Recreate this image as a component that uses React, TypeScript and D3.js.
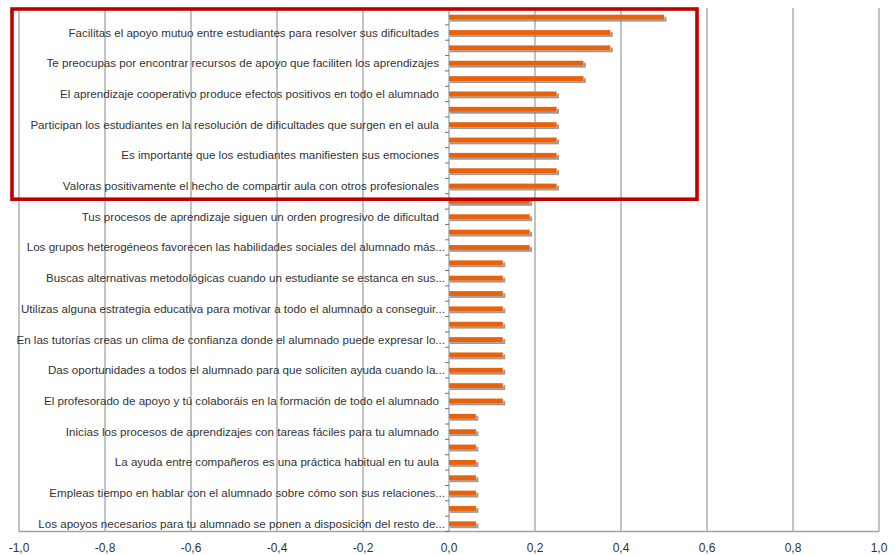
import React from "react";
import * as d3 from "d3";

// Mean scores per item, top to bottom (34 items; every second one carries a label)
const values: number[] = [
  0.5, 0.375, 0.375, 0.3125, 0.3125,
  0.25, 0.25, 0.25, 0.25, 0.25, 0.25, 0.25,
  0.1875, 0.1875, 0.1875, 0.1875,
  0.125, 0.125, 0.125, 0.125, 0.125, 0.125, 0.125, 0.125, 0.125, 0.125,
  0.0625, 0.0625, 0.0625, 0.0625, 0.0625, 0.0625, 0.0625, 0.0625,
];

// Labels shown on the category axis (on items 2, 4, 6, ...)
const labels: string[] = [
  "Facilitas el apoyo mutuo entre estudiantes para resolver sus dificultades",
  "Te preocupas por encontrar recursos de apoyo que faciliten los aprendizajes",
  "El aprendizaje cooperativo produce efectos positivos en todo el alumnado",
  "Participan los estudiantes en la resolución de dificultades que surgen en el aula",
  "Es importante que los estudiantes manifiesten sus emociones",
  "Valoras positivamente el hecho de compartir aula con otros profesionales",
  "Tus procesos de aprendizaje siguen un orden progresivo de dificultad",
  "Los grupos heterogéneos favorecen las habilidades sociales del alumnado más...",
  "Buscas alternativas metodológicas cuando un estudiante se estanca en sus...",
  "Utilizas alguna estrategia educativa para motivar a todo el alumnado a conseguir...",
  "En las tutorías creas un clima de confianza donde el alumnado puede expresar lo...",
  "Das oportunidades a todos el alumnado para que soliciten ayuda cuando la...",
  "El profesorado de apoyo y tú colaboráis en la formación de todo el alumnado",
  "Inicias los procesos de aprendizajes con tareas fáciles para tu alumnado",
  "La ayuda entre compañeros es una práctica habitual en tu aula",
  "Empleas tiempo en hablar con el alumnado sobre cómo son sus relaciones...",
  "Los apoyos necesarios para tu alumnado se ponen a disposición del resto de...",
];

const xTicks: number[] = [-1, -0.8, -0.6, -0.4, -0.2, 0, 0.2, 0.4, 0.6, 0.8, 1];

// Number of items highlighted by the red frame (from the top)
const highlightedCount = 12;

const W = 895;
const H = 555;
const plot = { left: 19, right: 879, top: 9.5, bottom: 531.5 };

export default function App() {
  const x = d3.scaleLinear().domain([-1, 1]).range([plot.left, plot.right]);
  const y = d3
    .scaleBand<number>()
    .domain(values.map((_, i) => i))
    .range([plot.top, plot.bottom])
    .paddingInner(0)
    .paddingOuter(0);
  const step = y.step();
  const barH = 4.8;
  const fmt = (v: number) => d3.format(".1f")(v).replace(".", ",").replace("−", "-");
  const textColor = "#333333";
  const gridColor = "#a3a3a3";
  const frameBottom = (y(highlightedCount) ?? 0) + step / 2 - 2.2;

  return (
    <svg
      width={W}
      height={H}
      style={{ position: "absolute", left: 0, top: 0, background: "#fff" }}
      fontFamily="'Liberation Sans', Arial, sans-serif"
    >
      <defs>
        <filter id="barShadow" x="-5%" y="-100%" width="110%" height="300%">
          <feGaussianBlur stdDeviation="0.7" />
        </filter>
      </defs>

      {/* vertical gridlines */}
      {xTicks.map((t) => (
        <line
          key={`g${t}`}
          x1={x(t)}
          x2={x(t)}
          y1={plot.top - 1.5}
          y2={plot.bottom}
          stroke={gridColor}
          strokeWidth={1.3}
        />
      ))}

      {/* horizontal axis line */}
      <line x1={plot.left} x2={plot.right} y1={plot.bottom} y2={plot.bottom} stroke={gridColor} strokeWidth={1.3} />

      {/* category axis ticks at the zero line */}
      {d3.range(values.length + 1).map((i) => (
        <line
          key={`t${i}`}
          x1={x(0) - 4}
          x2={x(0)}
          y1={plot.top + i * step}
          y2={plot.top + i * step}
          stroke="#707070"
          strokeWidth={1}
        />
      ))}

      {/* bars with soft shadow */}
      {values.map((v, i) => {
        const cy = (y(i) ?? 0) + step / 2;
        return (
          <g key={`b${i}`}>
            <rect
              x={x(0) + 1}
              y={cy - barH / 2 + 2}
              width={x(v) - x(0) + 1.5}
              height={barH}
              fill="#7a7a7a"
              opacity={0.75}
              filter="url(#barShadow)"
            />
            <rect x={x(0)} y={cy - barH / 2 - 0.3} width={x(v) - x(0) + 0.8} height={barH + 0.6} fill="#f6d3b0" opacity={0.6} />
            <rect x={x(0)} y={cy - barH / 2} width={x(v) - x(0)} height={barH} fill="#e8620c" />
          </g>
        );
      })}

      {/* category labels on every second item; truncated ones sit closer to the axis */}
      {labels.map((lab, k) => {
        const i = 2 * k + 1;
        const cy = (y(i) ?? 0) + step / 2;
        const truncated = lab.endsWith("...");
        return (
          <text
            key={`l${k}`}
            x={x(0) - (truncated ? 4 : 10)}
            y={cy + 4}
            textAnchor="end"
            fontSize={11.6}
            fill={textColor}
          >
            {lab}
          </text>
        );
      })}

      {/* value axis labels */}
      {xTicks.map((t) => (
        <text key={`x${t}`} x={x(t)} y={plot.bottom + 20} textAnchor="middle" fontSize={12} fill={textColor}>
          {fmt(t)}
        </text>
      ))}

      {/* highlight frame around the top items */}
      <rect
        x={12}
        y={plot.top - 0.5}
        width={697 - 12}
        height={frameBottom - (plot.top - 0.5)}
        fill="none"
        stroke="#c00000"
        strokeWidth={3.6}
      />
    </svg>
  );
}
